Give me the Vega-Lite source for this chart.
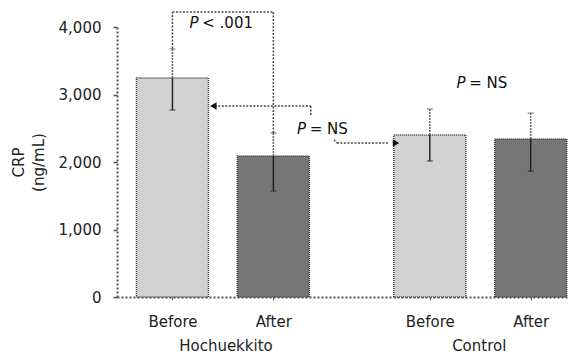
{
  "$schema": "https://vega.github.io/schema/vega-lite/v6.json",
  "width": 451,
  "height": 270,
  "autosize": {"type": "none"},
  "padding": {"left": 117, "top": 27, "right": 0, "bottom": 60},
  "background": "white",
  "config": {
    "view": {"stroke": null},
    "font": "DejaVu Sans",
    "axis": {"grid": false}
  },
  "datasets": {
    "bars": [
      {"group": "Hochuekkito", "time": "Before", "slot": 1, "mean": 3245, "lo": 2770, "hi": 3675},
      {"group": "Hochuekkito", "time": "After", "slot": 2, "mean": 2090, "lo": 1570, "hi": 2430},
      {"group": "Control", "time": "Before", "slot": 3.55, "mean": 2400, "lo": 2015, "hi": 2785},
      {"group": "Control", "time": "After", "slot": 4.55, "mean": 2340, "lo": 1865, "hi": 2725}
    ],
    "lines": [
      {"x": 1, "x2": 1, "y": 3680, "y2": 4222},
      {"x": 1, "x2": 2, "y": 4222, "y2": 4222},
      {"x": 2, "x2": 2, "y": 4222, "y2": 2430},
      {"x": 1.42, "x2": 2.37, "y": 2830, "y2": 2830},
      {"x": 2.37, "x2": 2.37, "y": 2830, "y2": 2696},
      {"x": 2.6, "x2": 2.63, "y": 2330, "y2": 2281},
      {"x": 2.63, "x2": 3.14, "y": 2281, "y2": 2281}
    ],
    "arrows": [
      {"x": 1.405, "y": 2830, "dir": "left"},
      {"x": 3.215, "y": 2281, "dir": "right"}
    ],
    "texts": [
      {"x": 1.169, "y": 4059, "part": "P", "text": "P"},
      {"x": 1.295, "y": 4059, "part": "rest", "text": "< .001"},
      {"x": 2.234, "y": 2489, "part": "P", "text": "P"},
      {"x": 2.36, "y": 2489, "part": "rest", "text": "= NS"},
      {"x": 3.814, "y": 3170, "part": "P", "text": "P"},
      {"x": 3.94, "y": 3170, "part": "rest", "text": "= NS"}
    ],
    "groups": [
      {"group": "Hochuekkito", "x": 1.53, "y": -726},
      {"group": "Control", "x": 4.04, "y": -726}
    ]
  },
  "layer": [
    {
      "data": {"name": "bars"},
      "mark": {"type": "bar", "size": 72, "stroke": "#3a3a3a", "strokeDash": [1, 1], "strokeWidth": 1.5},
      "encoding": {
        "x": {
          "field": "slot", "type": "quantitative",
          "scale": {"domain": [0.5, 4.87], "nice": false, "zero": false},
          "axis": {
            "title": null,
            "values": [1, 2, 3.55, 4.55],
            "labelExpr": "(datum.value < 1.5 || (datum.value > 3 && datum.value < 4)) ? 'Before' : 'After'",
            "labelFontSize": 15,
            "labelColor": "#222",
            "labelPadding": 14,
            "tickSize": 3,
            "tickColor": "#666",
            "tickWidth": 1,
            "domainColor": "#555",
            "domainDash": [2, 2],
            "domainWidth": 2,
            "labelFlush": false
          }
        },
        "y": {
          "field": "mean", "type": "quantitative",
          "scale": {"domain": [0, 4000], "nice": false},
          "axis": {
            "title": ["CRP", "(ng/mL)"],
            "titleFontSize": 15,
            "titleFontWeight": "normal",
            "titleColor": "#222",
            "titleLineHeight": 20,
            "titlePadding": 12,
            "values": [0, 1000, 2000, 3000, 4000],
            "labelExpr": "format(datum.value, ',')",
            "labelFontSize": 15,
            "labelColor": "#222",
            "labelPadding": 12,
            "tickSize": 4,
            "tickColor": "#555",
            "tickWidth": 1.5,
            "domainColor": "#555",
            "domainDash": [2, 2],
            "domainWidth": 2
          }
        },
        "color": {
          "field": "time", "type": "nominal",
          "scale": {"domain": ["Before", "After"], "range": ["#d2d2d2", "#767676"]},
          "legend": null
        }
      }
    },
    {
      "data": {"name": "bars"},
      "mark": {"type": "rule", "color": "#222", "strokeWidth": 1.5},
      "encoding": {
        "x": {"field": "slot", "type": "quantitative"},
        "y": {"field": "lo", "type": "quantitative"},
        "y2": {"field": "mean"}
      }
    },
    {
      "data": {"name": "bars"},
      "mark": {"type": "rule", "color": "#666", "strokeWidth": 1.5, "strokeDash": [2, 1]},
      "encoding": {
        "x": {"field": "slot", "type": "quantitative"},
        "y": {"field": "mean", "type": "quantitative"},
        "y2": {"field": "hi"}
      }
    },
    {
      "data": {"name": "bars"},
      "mark": {"type": "tick", "orient": "horizontal", "size": 6, "thickness": 1.2, "color": "#555"},
      "encoding": {
        "x": {"field": "slot", "type": "quantitative"},
        "y": {"field": "hi", "type": "quantitative"}
      }
    },
    {
      "data": {"name": "bars"},
      "mark": {"type": "tick", "orient": "horizontal", "size": 6, "thickness": 1.2, "color": "#222"},
      "encoding": {
        "x": {"field": "slot", "type": "quantitative"},
        "y": {"field": "lo", "type": "quantitative"}
      }
    },
    {
      "data": {"name": "lines"},
      "mark": {"type": "rule", "color": "#444", "strokeWidth": 1.5, "strokeDash": [2, 1.5]},
      "encoding": {
        "x": {"field": "x", "type": "quantitative"},
        "x2": {"field": "x2"},
        "y": {"field": "y", "type": "quantitative"},
        "y2": {"field": "y2"}
      }
    },
    {
      "data": {"name": "arrows"},
      "mark": {"type": "point", "filled": true, "color": "#111", "size": 55, "opacity": 1},
      "encoding": {
        "x": {"field": "x", "type": "quantitative"},
        "y": {"field": "y", "type": "quantitative"},
        "shape": {
          "field": "dir", "type": "nominal",
          "scale": {"domain": ["left", "right"], "range": ["triangle-left", "triangle-right"]},
          "legend": null
        }
      }
    },
    {
      "data": {"name": "texts"},
      "transform": [{"filter": "datum.part == 'P'"}],
      "mark": {"type": "text", "align": "left", "baseline": "middle", "fontSize": 15, "fontStyle": "italic", "color": "#111"},
      "encoding": {
        "x": {"field": "x", "type": "quantitative"},
        "y": {"field": "y", "type": "quantitative"},
        "text": {"field": "text"}
      }
    },
    {
      "data": {"name": "texts"},
      "transform": [{"filter": "datum.part == 'rest'"}],
      "mark": {"type": "text", "align": "left", "baseline": "middle", "fontSize": 15, "color": "#111"},
      "encoding": {
        "x": {"field": "x", "type": "quantitative"},
        "y": {"field": "y", "type": "quantitative"},
        "text": {"field": "text"}
      }
    },
    {
      "data": {"name": "groups"},
      "mark": {"type": "text", "align": "center", "baseline": "middle", "fontSize": 15, "color": "#222"},
      "encoding": {
        "x": {"field": "x", "type": "quantitative"},
        "y": {"field": "y", "type": "quantitative"},
        "text": {"field": "group"}
      }
    }
  ]
}
